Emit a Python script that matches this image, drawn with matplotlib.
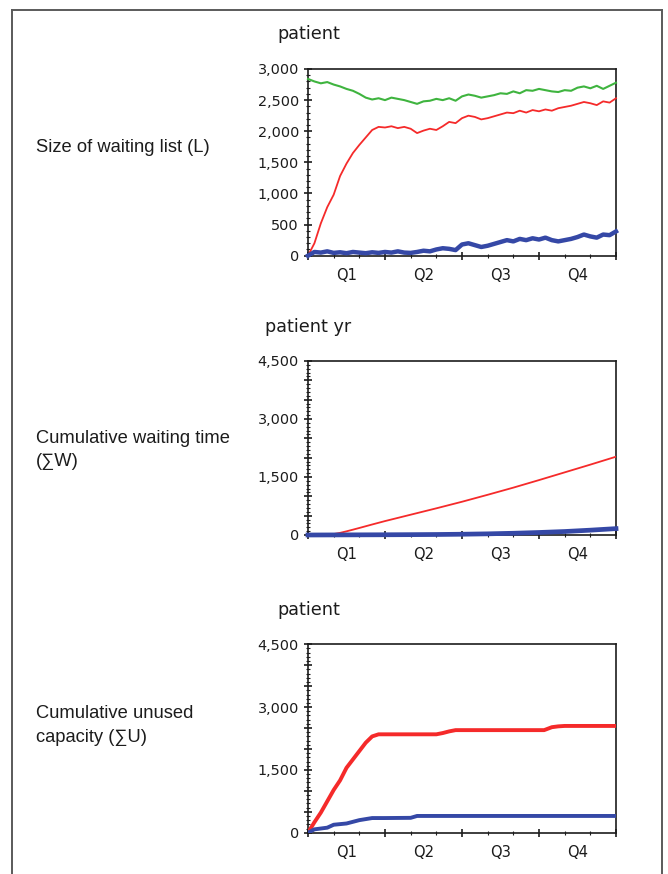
import numpy as np
import matplotlib
matplotlib.use("Agg")
import matplotlib.pyplot as plt
from matplotlib.ticker import MultipleLocator, FuncFormatter
from matplotlib.lines import Line2D

# ---------------- data ----------------
quarters = ["Q1", "Q2", "Q3", "Q4"]

# panel 1: size of waiting list (months 0..12 step 0.25)
t_wl = [i * 0.25 for i in range(49)]
wl_green = [2840, 2800, 2770, 2790, 2750, 2720, 2680, 2650, 2600, 2540, 2510, 2530,
            2500, 2540, 2520, 2500, 2470, 2440, 2480, 2490, 2520, 2500, 2530, 2490,
            2560, 2590, 2570, 2540, 2560, 2580, 2610, 2600, 2640, 2610, 2660, 2650,
            2680, 2660, 2640, 2630, 2660, 2650, 2700, 2720, 2690, 2730, 2680, 2730, 2780]
wl_red = [0, 200, 520, 780, 980, 1280, 1480, 1650, 1780, 1900, 2020, 2070,
          2060, 2080, 2050, 2070, 2040, 1970, 2010, 2040, 2020, 2080, 2150, 2130,
          2210, 2250, 2230, 2190, 2210, 2240, 2270, 2300, 2290, 2330, 2300, 2340,
          2320, 2350, 2330, 2370, 2390, 2410, 2440, 2470, 2450, 2420, 2480, 2460, 2530]
wl_blue = [0, 60, 50, 70, 45, 55, 40, 60, 50, 40, 55, 45,
           60, 50, 70, 50, 45, 60, 80, 70, 100, 120, 110, 90,
           180, 200, 170, 140, 160, 190, 220, 250, 230, 270, 250, 280,
           260, 290, 250, 230, 250, 270, 300, 340, 310, 290, 340, 330, 390]

# panel 2: cumulative waiting time
t_cw = [0, 0.5, 0.75, 1, 1.25, 1.5, 1.75, 2, 2.5, 3, 4, 5, 6, 7, 8, 9, 10, 11, 12]
cw_red = [0, 0, 5, 25, 55, 95, 138, 182, 272, 360, 525, 690, 860, 1040, 1225, 1420,
          1620, 1820, 2025]
t_cw_blue = [0, 1, 2, 3, 4, 5, 6, 7, 8, 9, 10, 11, 12]
cw_blue = [0, 2, 4, 6, 9, 13, 20, 30, 45, 65, 90, 125, 165]

# panel 3: cumulative unused capacity
t_cu_red = [0, 0.25, 0.5, 0.75, 1.0, 1.25, 1.5, 1.75, 2.0, 2.25, 2.5, 2.75,
            5.0, 5.25, 5.5, 5.75, 9.2, 9.5, 9.75, 10.0, 12.0]
cu_red = [0, 250, 480, 750, 1020, 1250, 1550, 1750, 1950, 2150, 2300, 2350,
          2350, 2380, 2420, 2450, 2450, 2520, 2540, 2550, 2550]
t_cu_blue = [0, 0.25, 0.5, 0.75, 1.0, 1.5, 2.0, 2.5, 3.0, 4.0, 4.25, 12.0]
cu_blue = [0, 80, 100, 120, 190, 220, 300, 350, 350, 355, 400, 400]

row_labels = ["Size of waiting list (L)",
              "Cumulative waiting time\n(\u2211W)",
              "Cumulative unused\ncapacity (\u2211U)"]
units = ["patient", "patient yr", "patient"]

RED = "#f52a2a"
GREEN = "#3fb43f"
BLUE = "#3548a6"
INK = "#1c1c1c"

# ---------------- figure ----------------
W, H = 668, 874
fig = plt.figure(figsize=(W / 100, H / 100), dpi=100)
fig.patch.set_facecolor("white")

def fx(px):
    return px / W

def fy(py):
    return 1 - py / H

# outer frame (open at bottom)
for xs, ys in [([12, 12], [874, 10]), ([12, 662], [10, 10]), ([662, 662], [10, 874])]:
    fig.add_artist(Line2D([fx(x) for x in xs], [fy(y) for y in ys],
                          color="#5a5a5a", lw=1.4, transform=fig.transFigure))

label_font = ["Liberation Sans", "DejaVu Sans"]

panels = [
    (69, 255.7, 3000),
    (361, 535, 4500),
    (644.3, 832.7, 4500),
]

axes = []
for top, bot, ymax in panels:
    ax = fig.add_axes([fx(308), fy(bot), fx(616) - fx(308), (bot - top) / H])
    ax.set_xlim(0, 12)
    ax.set_ylim(0, ymax)
    ax.xaxis.set_major_locator(MultipleLocator(3))
    ax.xaxis.set_minor_locator(MultipleLocator(1))
    ax.yaxis.set_major_locator(MultipleLocator(500))
    ax.yaxis.set_minor_locator(MultipleLocator(100))
    ax.set_xticklabels([])
    if ymax == 3000:
        ax.yaxis.set_major_formatter(FuncFormatter(lambda v, p: f"{int(v):,}"))
    else:
        ax.yaxis.set_major_formatter(
            FuncFormatter(lambda v, p: f"{int(v):,}" if int(v) % 1500 == 0 else ""))
    ax.tick_params(which="major", direction="inout", length=6, width=1.2,
                   color=INK, pad=3.5, labelsize=10.4, labelcolor=INK)
    ax.tick_params(which="minor", direction="inout", length=3, width=0.8,
                   color=INK)
    for lab in ax.get_yticklabels():
        lab.set_family("DejaVu Sans")
    for s in ax.spines.values():
        s.set_linewidth(1.2)
        s.set_color(INK)
    for i, q in enumerate(quarters):
        ax.annotate(q, xy=(1.5 + 3 * i, 0), xycoords=("data", "axes fraction"),
                    xytext=(0, -8.5), textcoords="offset points",
                    ha="center", va="top", fontsize=10.6, color=INK,
                    family="DejaVu Sans")
    axes.append(ax)

ax1, ax2, ax3 = axes
ax1.plot(t_wl, wl_green, color=GREEN, lw=1.5, zorder=3, clip_on=False)
ax1.plot(t_wl, wl_red, color=RED, lw=1.3, zorder=3, clip_on=False)
ax1.plot(t_wl, wl_blue, color=BLUE, lw=3.2, zorder=3, clip_on=False)

ax2.plot(t_cw, cw_red, color=RED, lw=1.3, zorder=3)
ax2.plot(t_cw_blue, cw_blue, color=BLUE, lw=3.4, zorder=3, clip_on=False)

ax3.plot(t_cu_red, cu_red, color=RED, lw=2.8, zorder=3)
ax3.plot(t_cu_blue, cu_blue, color=BLUE, lw=2.8, zorder=3)

# unit titles
title_pos = [(277, 39), (265, 332), (277, 615)]
for (x, y), u in zip(title_pos, units):
    fig.text(fx(x), fy(y), u, ha="left", va="baseline", fontsize=12.7,
             family="DejaVu Sans", color=INK)

# row labels (baseline of first line)
label_pos = [(36, 152), (36, 443), (36, 718)]
for (x, y), lab in zip(label_pos, row_labels):
    for k, line in enumerate(lab.split("\n")):
        fig.text(fx(x), fy(y + 23.5 * k), line, ha="left", va="baseline",
                 fontsize=13.2, family=label_font, color=INK)

fig.savefig("out.png", dpi=100, facecolor="white")
